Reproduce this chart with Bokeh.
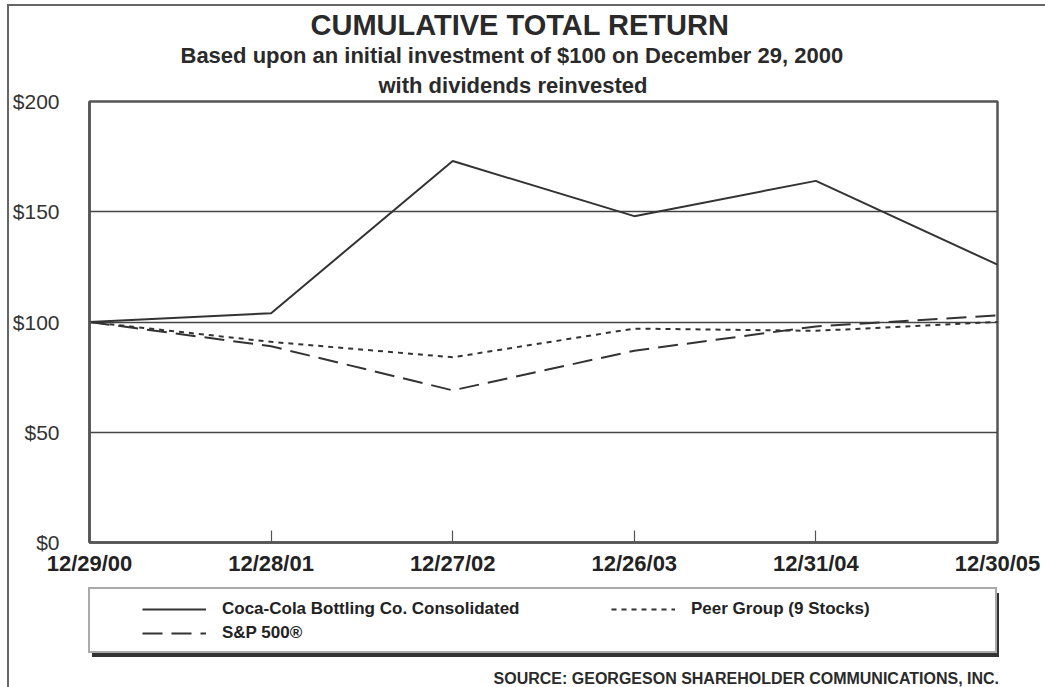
from bokeh.plotting import figure
from bokeh.layouts import column
from bokeh.models import Legend, LegendItem, Label, Range1d, FixedTicker, Title
from bokeh.embed import file_html
from bokeh.resources import INLINE

# ---- data ----
dates = ["12/29/00", "12/28/01", "12/27/02", "12/26/03", "12/31/04", "12/30/05"]
coke = [100, 104, 173, 148, 164, 126]
peer = [100, 91, 84, 97, 96, 100]
sp500 = [100, 89, 69, 87, 98, 103]
y_ticks = [0, 50, 100, 150, 200]
y_tick_labels = ["$0", "$50", "$100", "$150", "$200"]
series_names = ["Coca-Cola Bottling Co. Consolidated", "Peer Group (9 Stocks)", "S&P 500\u00ae"]
title_text = "CUMULATIVE TOTAL RETURN"
subtitle1 = "Based upon an initial investment of $100 on December 29, 2000"
subtitle2 = "with dividends reinvested"
source_text = "SOURCE:  GEORGESON SHAREHOLDER COMMUNICATIONS, INC."

xs = list(range(len(dates)))
FONT = "Liberation Sans"
INK = "#333333"
FRAME = "#555555"
TXT = "#2a2a2a"

# ---------------- main chart ----------------
p = figure(width=1036, height=581, output_backend="svg", toolbar_location=None,
           x_range=Range1d(xs[0], xs[-1]), y_range=Range1d(y_ticks[0], y_ticks[-1]),
           min_border_left=80, min_border_right=48, min_border_top=94, min_border_bottom=45,
           background_fill_color="white", border_fill_color="white")
p.frame_align = False
p.title.visible = False
p.outline_line_color = FRAME
p.outline_line_width = 2.5

p.xaxis.ticker = FixedTicker(ticks=xs)
p.xaxis.major_label_overrides = {i: d for i, d in zip(xs, dates)}
p.xaxis.major_tick_in = 12
p.xaxis.major_tick_out = 0
p.xaxis.major_tick_line_color = FRAME
p.xaxis.major_tick_line_width = 1.2
p.xaxis.minor_tick_line_color = None
p.xaxis.axis_line_color = FRAME
p.xaxis.axis_line_width = 2.5
p.xaxis.major_label_text_font = FONT
p.xaxis.major_label_text_font_style = "bold"
p.xaxis.major_label_text_font_size = "22px"
p.xaxis.major_label_text_color = "#222222"
p.xaxis.major_label_standoff = 8

p.yaxis.ticker = FixedTicker(ticks=y_ticks)
p.yaxis.major_label_overrides = {t: l for t, l in zip(y_ticks, y_tick_labels)}
p.yaxis.major_tick_line_color = None
p.yaxis.minor_tick_line_color = None
p.yaxis.axis_line_color = FRAME
p.yaxis.axis_line_width = 2.5
p.yaxis.major_label_text_font = FONT
p.yaxis.major_label_text_font_size = "21px"
p.yaxis.major_label_text_color = "#333333"
p.yaxis.major_label_standoff = 24

p.xgrid.visible = False
p.ygrid.ticker = FixedTicker(ticks=y_ticks)
p.ygrid.grid_line_color = "#444444"
p.ygrid.grid_line_width = 1.3

styles = {"coke": dict(line_color=INK, line_width=2),
          "peer": dict(line_color=INK, line_width=2, line_dash="5 5"),
          "sp": dict(line_color=INK, line_width=2, line_dash="20 9")}
p.line(xs, coke, **styles["coke"])
p.line(xs, peer, **styles["peer"])
p.line(xs, sp500, **styles["sp"])

# titles (first added = nearest to the plot)
for txt, size, stand, off in [(subtitle2, "22px", 7, 289), (subtitle1, "22px", 0, 91),
                              (title_text, "29px", 0, 221)]:
    p.add_layout(Title(text=txt, align="left", offset=off, standoff=stand,
                       text_font=FONT, text_font_size=size, text_font_style="bold",
                       text_color=TXT), "above")

# ---------------- legend + source strip ----------------
q = figure(width=1036, height=100, output_backend="svg", toolbar_location=None,
           x_range=Range1d(0, 1), y_range=Range1d(0, 1),
           x_axis_location=None, y_axis_location=None,
           min_border=0, min_border_left=0, min_border_right=0, min_border_top=0, min_border_bottom=0,
           background_fill_color="white", border_fill_color="white", outline_line_color=None)
q.frame_align = False
q.title.visible = False
q.grid.visible = False
nan = float("nan")
d_coke = q.line([nan], [nan], **styles["coke"])
d_peer = q.line([nan], [nan], **styles["peer"])
d_sp = q.line([nan], [nan], **styles["sp"])

common_box = dict(glyph_width=0, glyph_height=62, label_height=62, label_width=905,
                  label_standoff=0, padding=0, margin=0, spacing=0)
shadow = Legend(items=[LegendItem(label=" ", renderers=[d_coke])], location=(83, 30),
                background_fill_color="#333333", background_fill_alpha=1.0,
                border_line_color="#333333", border_line_width=1, **common_box)
box = Legend(items=[LegendItem(label=" ", renderers=[d_coke])], location=(79, 34),
             background_fill_color="white", background_fill_alpha=1.0,
             border_line_color="#555555", border_line_width=2, **common_box)
common_items = dict(glyph_width=64, glyph_height=20, label_height=20, label_standoff=16,
                    padding=0, margin=0, spacing=4, border_line_color=None,
                    background_fill_alpha=0.0, label_text_font=FONT,
                    label_text_font_style="bold", label_text_font_size="17px",
                    label_text_color="#222222")
legA = Legend(items=[LegendItem(label=series_names[0], renderers=[d_coke]),
                     LegendItem(label=series_names[2], renderers=[d_sp])],
              location=(133, 44), **common_items)
legB = Legend(items=[LegendItem(label=series_names[1], renderers=[d_peer])],
              location=(602, 68), **common_items)
for lg in (shadow, box, legA, legB):
    q.add_layout(lg)

q.add_layout(Label(text=source_text, x=994, y=9, x_units="screen", y_units="screen",
                   text_align="right", text_baseline="alphabetic", text_font=FONT,
                   text_font_size="16px", text_font_style="bold", text_color=TXT))

layout = column(p, q, spacing=0,
                styles={"border-left": "2px solid #666666", "border-top": "2px solid #666666",
                        "margin-left": "7px", "margin-top": "4px"})

open("out.html", "w").write(file_html(layout, INLINE))
